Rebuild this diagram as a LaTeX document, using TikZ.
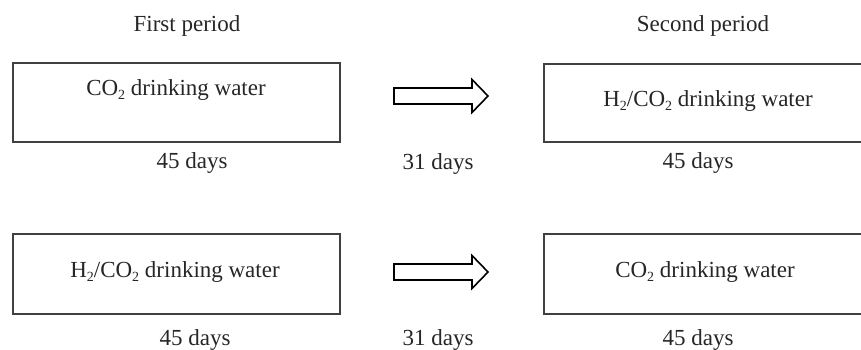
\documentclass[tikz,border=0pt]{standalone}
\usepackage{fontspec}
\setmainfont{Liberation Serif}
\usetikzlibrary{calc}
\newcommand{\lowsub}[1]{\raisebox{-0.45ex}{\fontsize{14}{16}\selectfont #1}}
\begin{document}
\begin{tikzpicture}[x=1pt,y=-1pt,
  box/.style={draw=black!75, line width=1.8pt, inner sep=0pt, anchor=north west},
  lbl/.style={font=\fontsize{23}{27}\selectfont, inner sep=0pt, anchor=base, text=black!85},
  blockarrow/.style={draw=black, line width=1.6pt, fill=white, line join=miter}]
\useasboundingbox (0,0) rectangle (861,349);
% boxes
\node[box, minimum width=327, minimum height=79] (b1) at (12,62) {};
\node[box, minimum width=324, minimum height=78] (b2) at (543,63) {};
\node[box, minimum width=327, minimum height=80] (b3) at (12,233) {};
\node[box, minimum width=324, minimum height=80] (b4) at (543,233) {};
% headings
\node[lbl] (h1) at (187,31) {First period};
\node[lbl] (h2) at (703,31) {Second period};
% box texts
\node[lbl] (t1) at (176,95) {CO\lowsub{2} drinking water};
\node[lbl] (t2) at (708,106) {H\lowsub{2}/CO\lowsub{2} drinking water};
\node[lbl] (t3) at (175,277) {H\lowsub{2}/CO\lowsub{2} drinking water};
\node[lbl] (t4) at (705,277) {CO\lowsub{2} drinking water};
% durations
\node[lbl] (d1) at (192,168) {45 days};
\node[lbl] (d2) at (698,168) {45 days};
\node[lbl] (d3) at (195,345) {45 days};
\node[lbl] (d4) at (698,345) {45 days};
\node[lbl] (m1) at (438,169) {31 days};
\node[lbl] (m2) at (438,345) {31 days};
% block arrows
\coordinate (a1) at (394,96);
\coordinate (a2) at (394,272);
\foreach \a in {a1,a2}{
  \draw[blockarrow] ($(\a)+(0,-8)$) -- ($(\a)+(78,-8)$) -- ($(\a)+(78,-16.5)$)
    -- ($(\a)+(94,0)$) -- ($(\a)+(78,16.5)$) -- ($(\a)+(78,8)$) -- ($(\a)+(0,8)$) -- cycle;
}
\end{tikzpicture}
\end{document}
